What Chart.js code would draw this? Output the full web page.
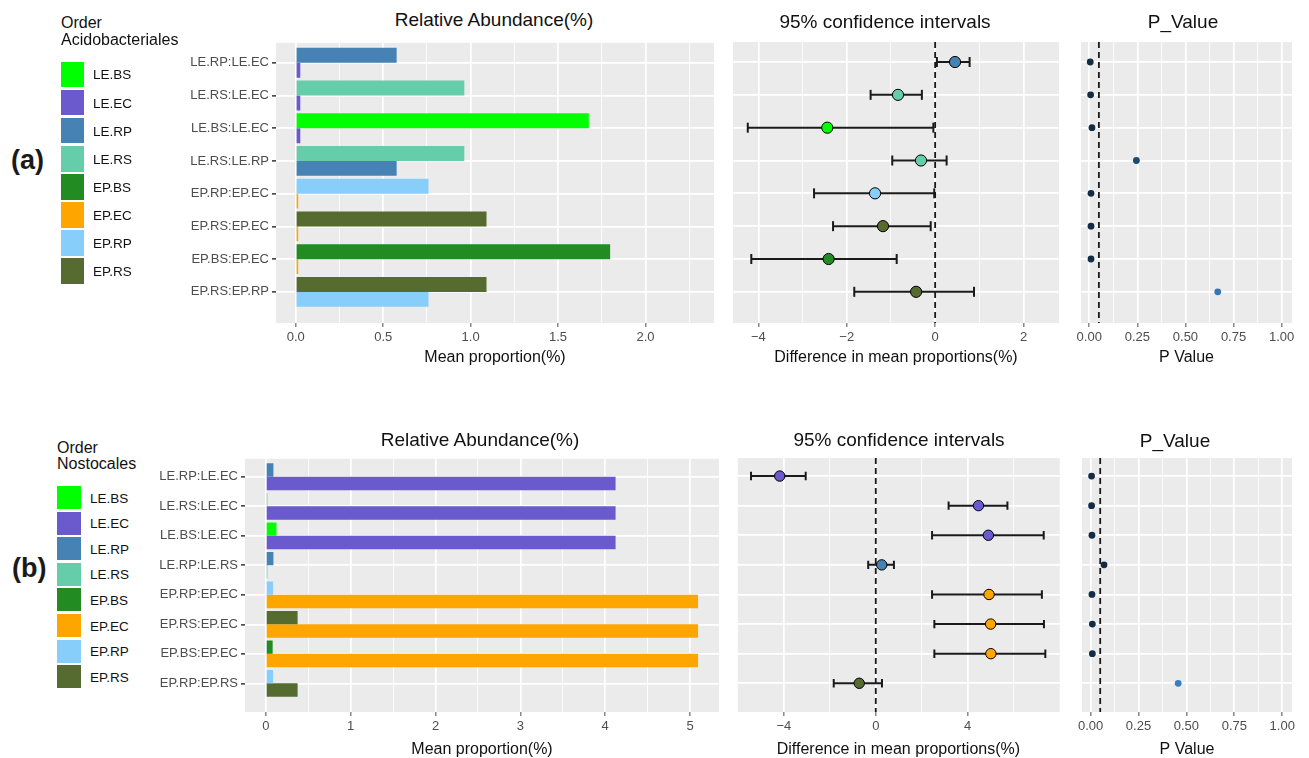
<!DOCTYPE html>
<html>
<head>
<meta charset="utf-8">
<script src="https://cdn.jsdelivr.net/npm/chart.js@4.4.1/dist/chart.umd.min.js"></script>
<style>
  body { margin: 0; width: 1309px; height: 758px; overflow: hidden; background: #fff; position: relative;
         font-family: 'Liberation Sans', Arial, sans-serif; }
  canvas { position: absolute; }
  .ttl { position: absolute; white-space: nowrap; transform: translate(-50%, -50%); font-size: 19px; color: #111; }
  .lgt { position: absolute; white-space: nowrap; transform: translateY(-50%); font-size: 16px; color: #111; }
  .sw { position: absolute; }
  .sl { position: absolute; white-space: nowrap; transform: translateY(-50%); font-size: 13.5px; color: #111; }
  .tag { position: absolute; transform: translateY(-50%); font-weight: bold; font-size: 27px; color: #1a1a1a; }
</style>
</head>
<body>
<script>
// groups and their colours (legend order)
const groups = ['LE.BS', 'LE.EC', 'LE.RP', 'LE.RS', 'EP.BS', 'EP.EC', 'EP.RP', 'EP.RS'];
const groupColors = ['#00FF00', '#6A5ACD', '#4682B4', '#66CDAA', '#228B22', '#FFA500', '#87CEFA', '#556B2F'];

// (a) Order Acidobacteriales
const compA = ['LE.RP:LE.EC', 'LE.RS:LE.EC', 'LE.BS:LE.EC', 'LE.RS:LE.RP', 'EP.RP:EP.EC', 'EP.RS:EP.EC', 'EP.BS:EP.EC', 'EP.RS:EP.RP'];
const meanA = [1.676, 0.026, 0.577, 0.964, 1.798, 0.014, 0.759, 1.091];   // per group
const diffA = [0.45, -0.84, -2.44, -0.32, -1.36, -1.18, -2.41, -0.43];
const lowA  = [0.04, -1.46, -4.24, -0.97, -2.74, -2.31, -4.16, -1.83];
const highA = [0.78, -0.30, -0.04, 0.26, -0.02, -0.10, -0.87, 0.88];
const pA    = [0.005, 0.007, 0.014, 0.245, 0.009, 0.009, 0.009, 0.668];
const pColorA = ['#132B43', '#132B43', '#132B43', '#1C4A72', '#132B43', '#132B43', '#132B43', '#3377B5'];

// (b) Order Nostocales
const compB = ['LE.RP:LE.EC', 'LE.RS:LE.EC', 'LE.BS:LE.EC', 'LE.RP:LE.RS', 'EP.RP:EP.EC', 'EP.RS:EP.EC', 'EP.BS:EP.EC', 'EP.RP:EP.RS'];
const meanB = [0.125, 4.122, 0.089, 0.018, 0.080, 5.094, 0.085, 0.374];
const diffB = [-4.18, 4.47, 4.90, 0.26, 4.93, 5.00, 5.01, -0.72];
const lowB  = [-5.43, 3.17, 2.45, -0.33, 2.45, 2.55, 2.55, -1.83];
const highB = [-3.05, 5.73, 7.31, 0.79, 7.23, 7.32, 7.38, 0.27];
const pB    = [0.005, 0.005, 0.007, 0.070, 0.007, 0.009, 0.009, 0.457];
const pColorB = ['#132B43', '#132B43', '#132B43', '#132B43', '#132B43', '#132B43', '#132B43', '#3A7EBF'];

// axis ticks
const barATicks = [0, 0.5, 1, 1.5, 2], barAMinor = [0.25, 0.75, 1.25, 1.75, 2.25];
const barBTicks = [0, 1, 2, 3, 4, 5], barBMinor = [0.5, 1.5, 2.5, 3.5, 4.5];
const ciATicks = [-4, -2, 0, 2], ciAMinor = [-3, -1, 1];
const ciBTicks = [-4, 0, 4], ciBMinor = [-6, -2, 2, 6];
const pTicks = [0, 0.25, 0.5, 0.75, 1], pMinor = [0.125, 0.375, 0.625, 0.875];
const pCutoff = 0.05;

Chart.defaults.font.family = "'Liberation Sans', Arial, sans-serif";

// grey panel background like ggplot
Chart.register({
  id: 'panelBg',
  beforeDraw(chart) {
    const a = chart.chartArea, ctx = chart.ctx;
    ctx.save();
    ctx.fillStyle = '#EBEBEB';
    ctx.fillRect(a.left, a.top, a.right - a.left, a.bottom - a.top);
    ctx.restore();
  }
});
// dashed vertical reference line
Chart.register({
  id: 'refLine',
  beforeDatasetsDraw(chart, args, opts) {
    if (!opts || opts.value === undefined) return;
    const x = chart.scales.x.getPixelForValue(opts.value);
    const ctx = chart.ctx, a = chart.chartArea;
    ctx.save();
    ctx.strokeStyle = '#1a1a1a';
    ctx.lineWidth = 1.8;
    ctx.setLineDash([6, 4]);
    ctx.beginPath();
    ctx.moveTo(x, a.top);
    ctx.lineTo(x, a.bottom);
    ctx.stroke();
    ctx.restore();
  }
});

const val = (means, g) => means[groups.indexOf(g)];
const col = g => groupColors[groups.indexOf(g)];
const PAD_TOP = 10;

function makeCanvas(left, top, width, height) {
  const c = document.createElement('canvas');
  c.width = width; c.height = height;
  c.style.left = left + 'px'; c.style.top = top + 'px';
  document.body.appendChild(c);
  return c;
}

function xAxis(o) {
  const all = o.major.concat(o.minor).sort((a, b) => a - b);
  const isMajor = v => o.major.some(m => Math.abs(m - v) < 1e-9);
  return {
    type: 'linear', position: 'bottom', min: o.min, max: o.max, offset: false,
    afterBuildTicks: s => { s.ticks = all.map(v => ({ value: v })); },
    afterFit: s => { s.height = o.height; },
    ticks: { autoSkip: false, maxRotation: 0, padding: 3, color: '#4D4D4D', font: { size: 13 },
             callback: v => isMajor(v) ? o.fmt(v) : '' },
    grid: { offset: false, color: '#FFFFFF', lineWidth: c => (c.tick && isMajor(c.tick.value)) ? 1.7 : 0.8,
            tickLength: 4, tickWidth: 1,
            tickColor: c => (c.tick && isMajor(c.tick.value)) ? '#4D4D4D' : 'rgba(0,0,0,0)' },
    border: { display: false },
    title: { display: true, text: o.title, color: '#111', font: { size: 16 }, padding: { top: 0, bottom: o.titlePad } }
  };
}

function yAxis(o) {
  return {
    type: 'linear', reverse: true, min: o.min, max: o.max, offset: false,
    afterBuildTicks: s => { s.ticks = o.labels.map((_, i) => ({ value: i })); },
    afterFit: s => { s.width = o.width; },
    ticks: { display: o.show, autoSkip: false, padding: 3, color: '#4D4D4D', font: { size: 13 },
             callback: v => o.labels[v] || '' },
    grid: { offset: false, color: '#FFFFFF', lineWidth: 1.7, drawTicks: o.show, tickLength: 4, tickColor: '#4D4D4D' },
    border: { display: false }
  };
}

function baseOptions(padR) {
  return {
    responsive: false, animation: false, devicePixelRatio: 1,
    layout: { padding: { top: PAD_TOP, right: padR, left: 0, bottom: 0 } },
    plugins: { legend: { display: false }, tooltip: { enabled: false } }
  };
}

function barChart(box, comps, means, x, y) {
  const first = comps.map(c => c.split(':')[0]);
  const second = comps.map(c => c.split(':')[1]);
  const opts = baseOptions(box.padR);
  opts.indexAxis = 'y';
  opts.scales = { x: xAxis(x), y: yAxis(y) };
  new Chart(makeCanvas(box.left, box.top, box.width, box.height), {
    type: 'bar',
    data: { datasets: [
      { data: first.map((g, i) => ({ x: val(means, g), y: i })), backgroundColor: first.map(col),
        categoryPercentage: 0.91, barPercentage: 1 },
      { data: second.map((g, i) => ({ x: val(means, g), y: i })), backgroundColor: second.map(col),
        categoryPercentage: 0.91, barPercentage: 1 }
    ] },
    options: opts
  });
}

function ciChart(box, comps, means, diff, low, high, x, y, r, cap) {
  const winner = comps.map(c => {
    const [a, b] = c.split(':');
    return val(means, a) >= val(means, b) ? a : b;
  });
  const opts = baseOptions(box.padR);
  opts.scales = { x: xAxis(x), y: yAxis(y) };
  opts.plugins.refLine = { value: 0 };
  const bars = low.map((l, i) => ({
    data: [{ x: l, y: i }, { x: high[i], y: i }], showLine: true,
    borderColor: '#1a1a1a', borderWidth: 2,
    pointStyle: 'line', pointRotation: 90, pointRadius: cap, pointBorderWidth: 2,
    pointBorderColor: '#1a1a1a', order: 1
  }));
  new Chart(makeCanvas(box.left, box.top, box.width, box.height), {
    type: 'scatter',
    data: { datasets: [
      { data: diff.map((d, i) => ({ x: d, y: i })), pointBackgroundColor: winner.map(col),
        pointBorderColor: '#000', pointBorderWidth: 1, pointRadius: r, order: 0 }
    ].concat(bars) },
    options: opts
  });
}

function pChart(box, p, colors, x, y) {
  const opts = baseOptions(box.padR);
  opts.scales = { x: xAxis(x), y: yAxis(y) };
  opts.plugins.refLine = { value: pCutoff };
  new Chart(makeCanvas(box.left, box.top, box.width, box.height), {
    type: 'scatter',
    data: { datasets: [
      { data: p.map((v, i) => ({ x: v, y: i })), pointBackgroundColor: colors,
        pointBorderWidth: 0, pointRadius: 3.4 }
    ] },
    options: opts
  });
}

const fix1 = v => v.toFixed(1), fix2 = v => v.toFixed(2), int = v => String(v);
const minus = v => v < 0 ? '\u2212' + Math.abs(v) : String(v);

// ---- row (a): plot top 42, bottom 323
const yA = { min: -0.61, max: 7.95 };
barChart({ left: 166, top: 32, width: 554, height: 340, padR: 6 }, compA, meanA,
  { min: -0.113, max: 2.392, major: barATicks, minor: barAMinor, fmt: fix1, title: 'Mean proportion(%)', height: 49, titlePad: 4.4 },
  { ...yA, labels: compA, width: 110, show: true });
ciChart({ left: 723, top: 32, width: 343, height: 340, padR: 4 }, compA, meanA, diffA, lowA, highA,
  { min: -4.574, max: 2.803, major: ciATicks, minor: ciAMinor, fmt: minus, title: 'Difference in mean proportions(%)', height: 49, titlePad: 4.4 },
  { ...yA, labels: compA, width: 10, show: false }, 5.6, 5);
pChart({ left: 1071, top: 32, width: 238, height: 340, padR: 17 }, pA, pColorA,
  { min: -0.043, max: 1.054, major: pTicks, minor: pMinor, fmt: fix2, title: 'P Value', height: 49, titlePad: 4.4 },
  { ...yA, labels: compA, width: 10, show: false });

// ---- row (b): plot top 458, bottom 712
const yB = { min: -0.61, max: 7.97 };
barChart({ left: 145, top: 448, width: 580, height: 314, padR: 6 }, compB, meanB,
  { min: -0.246, max: 5.341, major: barBTicks, minor: barBMinor, fmt: int, title: 'Mean proportion(%)', height: 50, titlePad: 2.4 },
  { ...yB, labels: compB, width: 100, show: true });
ciChart({ left: 727, top: 448, width: 339, height: 314, padR: 4 }, compB, meanB, diffB, lowB, highB,
  { min: -6.04, max: 8.01, major: ciBTicks, minor: ciBMinor, fmt: minus, title: 'Difference in mean proportions(%)', height: 50, titlePad: 2.4 },
  { ...yB, labels: compB, width: 10, show: false }, 5.2, 4.2);
pChart({ left: 1072, top: 448, width: 237, height: 314, padR: 17 }, pB, pColorB,
  { min: -0.045, max: 1.051, major: pTicks, minor: pMinor, fmt: fix2, title: 'P Value', height: 50, titlePad: 2.4 },
  { ...yB, labels: compB, width: 10, show: false });

// ---- titles, legends, panel tags
function addDiv(cls, text, left, top) {
  const d = document.createElement('div');
  d.className = cls; d.textContent = text;
  d.style.left = left + 'px'; d.style.top = top + 'px';
  document.body.appendChild(d);
  return d;
}
addDiv('ttl', 'Relative Abundance(%)', 494, 20);
addDiv('ttl', '95% confidence intervals', 885, 21.7);
addDiv('ttl', 'P_Value', 1183, 21.7);
addDiv('ttl', 'Relative Abundance(%)', 480, 440);
addDiv('ttl', '95% confidence intervals', 899, 440);
addDiv('ttl', 'P_Value', 1175, 441);

addDiv('tag', '(a)', 11, 160);
addDiv('tag', '(b)', 12, 568);

function legend(title, left, titleTop, top, step, w, h, labelX) {
  addDiv('lgt', 'Order', left, titleTop);
  addDiv('lgt', title, left, titleTop + 16.5);
  groups.forEach((g, i) => {
    const s = document.createElement('div');
    s.className = 'sw';
    s.style.cssText = `left:${left}px;top:${top + i * step}px;width:${w}px;height:${h}px;background:${groupColors[i]};`;
    document.body.appendChild(s);
    addDiv('sl', g, labelX, top + i * step + h / 2);
  });
}
legend('Acidobacteriales', 61, 23, 61.7, 28.1, 23, 25.5, 93);
legend('Nostocales', 57, 447.5, 486, 25.6, 24, 23, 90);
</script>
</body>
</html>
